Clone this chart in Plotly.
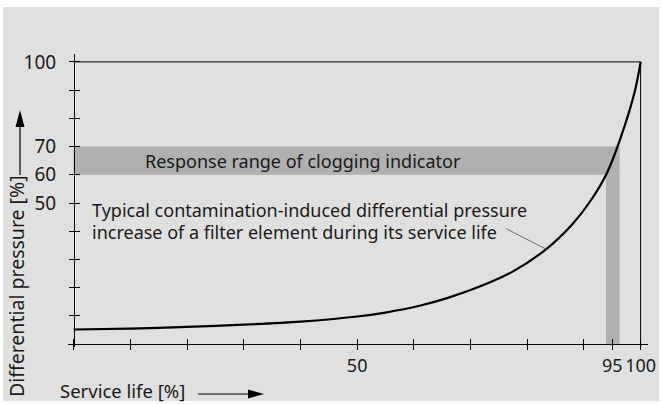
import plotly.graph_objects as go

# curve
service_life = [0, 10, 20, 30, 40, 50, 55, 61, 66, 71.6, 77.5, 83.3, 88, 91.2, 94, 96.3, 99, 100]
diff_pressure = [5.2, 5.5, 6.1, 6.9, 8.0, 9.8, 11.2, 13.6, 16.4, 20.4, 25.8, 33.6, 42.6, 50.9, 60.4, 72.1, 89.8, 100]

# response range of the clogging indicator
response_range = [60, 70]
response_life = [93.9, 96.3]

# leader from the text to the curve
leader_x = [76.3, 83.4]
leader_y = [40.9, 33.6]

x_tickvals = [0, 10, 20, 30, 40, 50, 60, 70, 80, 90, 95, 100]
x_ticktext = ["", "", "", "", "", "50", "", "", "", "", "95", "100"]
y_tickvals = [0, 10, 20, 30, 40, 50, 60, 70, 80, 90, 100]
y_ticktext = ["", "", "", "", "", "50", "60", "70", "", "", "100"]

FONT = "Noto Sans"
TXT = "#1a1a1a"
BG = "#e0e0e0"
BAND = "#b0b0b0"

# plot area in pixels
L, R, T, B = 68, 648, 54, 347
W, H = R - L, B - T


def px_x(px):
    return (px - L) / W


def px_y(py):
    return (B - py) / H


fig = go.Figure()

fig.add_trace(go.Scatter(x=service_life, y=diff_pressure, mode="lines",
                         line=dict(color="black", width=2.2, shape="spline", smoothing=0.8),
                         hoverinfo="skip", showlegend=False))
fig.add_trace(go.Scatter(x=leader_x, y=leader_y, mode="lines",
                         line=dict(color="#707070", width=1),
                         hoverinfo="skip", showlegend=False))
# dummy trace for the inside-tick axes
fig.add_trace(go.Scatter(x=[50], y=[50], xaxis="x2", yaxis="y2", mode="markers",
                         marker=dict(opacity=0), hoverinfo="skip", showlegend=False))

shapes = [
    # gray card
    dict(type="rect", xref="paper", yref="paper", layer="below",
         x0=px_x(3), x1=px_x(659), y0=px_y(401), y1=px_y(7),
         fillcolor=BG, line=dict(width=0)),
    # response band, horizontal + vertical
    dict(type="rect", xref="x", yref="y", layer="below",
         x0=0, x1=response_life[1], y0=response_range[0], y1=response_range[1],
         fillcolor=BAND, line=dict(width=0)),
    dict(type="rect", xref="x", yref="y", layer="below",
         x0=response_life[0], x1=response_life[1], y0=0, y1=response_range[0],
         fillcolor=BAND, line=dict(width=0)),
    # frame top and right
    dict(type="line", xref="x", yref="y", x0=0, x1=100, y0=100, y1=100,
         line=dict(color="black", width=1)),
    dict(type="line", xref="x", yref="y", x0=100, x1=100, y0=-1, y1=100,
         line=dict(color="black", width=1)),
    # axis arrows
    dict(type="line", xref="paper", yref="paper",
         x0=px_x(198), x1=px_x(250), y0=px_y(394), y1=px_y(394),
         line=dict(color="black", width=1.2)),
    dict(type="path", xref="paper", yref="paper",
         path=f"M{px_x(264)},{px_y(394)} L{px_x(248)},{px_y(389.5)} L{px_x(248)},{px_y(398.5)} Z",
         fillcolor="black", line=dict(width=0)),
    dict(type="line", xref="paper", yref="paper",
         x0=px_x(20), x1=px_x(20), y0=px_y(175), y1=px_y(125),
         line=dict(color="black", width=1.2)),
    dict(type="path", xref="paper", yref="paper",
         path=f"M{px_x(20)},{px_y(110)} L{px_x(15.5)},{px_y(127)} L{px_x(24.5)},{px_y(127)} Z",
         fillcolor="black", line=dict(width=0)),
]

annotations = [
    dict(x=40.5, y=65, xref="x", yref="y", text="Response range of clogging indicator",
         showarrow=False, xanchor="center", yanchor="middle",
         font=dict(family=FONT, size=18, color=TXT)),
    dict(x=2.9, y=47.7, xref="x", yref="y",
         text="Typical contamination-induced differential pressure",
         showarrow=False, xanchor="left", yanchor="middle",
         font=dict(family=FONT, size=18, color=TXT)),
    dict(x=2.9, y=39.6, xref="x", yref="y",
         text="increase of a filter element during its service life",
         showarrow=False, xanchor="left", yanchor="middle",
         font=dict(family=FONT, size=18, color=TXT)),
    dict(x=px_x(122.5), y=px_y(390), xref="paper", yref="paper", text="Service life [%]",
         showarrow=False, xanchor="center", yanchor="middle",
         font=dict(family=FONT, size=18.5, color=TXT)),
    dict(x=px_x(16), y=px_y(286), xref="paper", yref="paper",
         text="Differential pressure [%]", textangle=-90,
         showarrow=False, xanchor="center", yanchor="middle",
         font=dict(family=FONT, size=19.5, color=TXT)),
]

xr = [-1.0, 101.3]
yr = [-1.0, 102.8]
pos_x = px_y(344)
pos_y = px_x(74)

fig.update_layout(
    width=662, height=404,
    margin=dict(l=L, r=662 - R, t=T, b=404 - B, autoexpand=False),
    paper_bgcolor="white", plot_bgcolor="rgba(0,0,0,0)",
    showlegend=False,
    shapes=shapes, annotations=annotations,
    font=dict(family=FONT, size=18.5, color=TXT),
    xaxis=dict(range=xr, anchor="free", position=pos_x, showline=True, linecolor="black",
               linewidth=1, ticks="outside", ticklen=5, tickwidth=1, tickcolor="black",
               tickvals=x_tickvals, ticktext=x_ticktext, showgrid=False, zeroline=False,
               tickangle=0, tickfont=dict(size=18), ticklabelstandoff=0, automargin=False),
    yaxis=dict(range=yr, anchor="free", position=pos_y, showline=True, linecolor="black",
               linewidth=1, ticks="outside", ticklen=5, tickwidth=1, tickcolor="black",
               tickvals=y_tickvals, ticktext=y_ticktext, showgrid=False, zeroline=False,
               tickfont=dict(size=19), ticklabelstandoff=9, automargin=False),
    xaxis2=dict(range=xr, overlaying="x", anchor="free", position=pos_x, showline=False,
                ticks="inside", ticklen=5, tickwidth=1, tickcolor="black",
                tickvals=x_tickvals, showticklabels=False, showgrid=False, zeroline=False,
                automargin=False),
    yaxis2=dict(range=yr, overlaying="y", anchor="free", position=pos_y, showline=False,
                ticks="inside", ticklen=5, tickwidth=1, tickcolor="black",
                tickvals=y_tickvals, showticklabels=False, showgrid=False, zeroline=False,
                automargin=False),
)

fig.write_html("out.html", config={"displayModeBar": False},
               post_script="document.body.style.margin='0';")
